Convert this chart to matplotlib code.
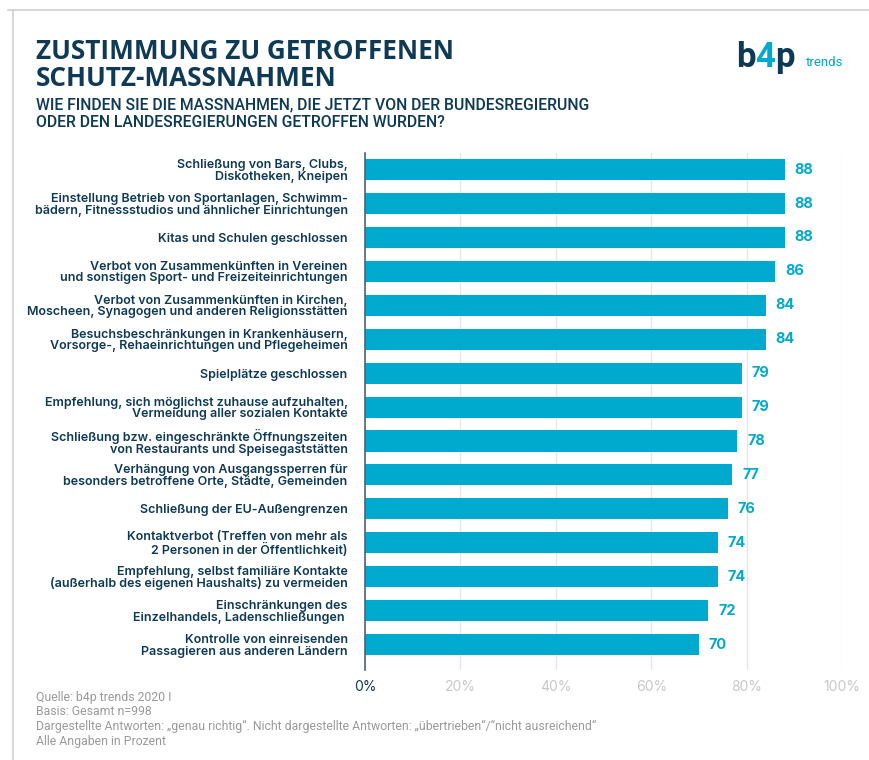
import matplotlib
matplotlib.use("Agg")
import matplotlib.pyplot as plt
from matplotlib.lines import Line2D

categories = [
    "Schließung von Bars, Clubs,\nDiskotheken, Kneipen",
    "Einstellung Betrieb von Sportanlagen, Schwimm-\nbädern, Fitnessstudios und ähnlicher Einrichtungen",
    "Kitas und Schulen geschlossen",
    "Verbot von Zusammenkünften in Vereinen\nund sonstigen Sport- und Freizeiteinrichtungen",
    "Verbot von Zusammenkünften in Kirchen,\nMoscheen, Synagogen und anderen Religionsstätten",
    "Besuchsbeschränkungen in Krankenhäusern,\nVorsorge-, Rehaeinrichtungen und Pflegeheimen",
    "Spielplätze geschlossen",
    "Empfehlung, sich möglichst zuhause aufzuhalten,\nVermeidung aller sozialen Kontakte",
    "Schließung bzw. eingeschränkte Öffnungszeiten\nvon Restaurants und Speisegaststätten",
    "Verhängung von Ausgangssperren für\nbesonders betroffene Orte, Städte, Gemeinden",
    "Schließung der EU-Außengrenzen",
    "Kontaktverbot (Treffen von mehr als\n2 Personen in der Öffentlichkeit)",
    "Empfehlung, selbst familiäre Kontakte\n(außerhalb des eigenen Haushalts) zu vermeiden",
    "Einschränkungen des\nEinzelhandels, Ladenschließungen ",
    "Kontrolle von einreisenden\nPassagieren aus anderen Ländern",
]
values = [88, 88, 88, 86, 84, 84, 79, 79, 78, 77, 76, 74, 74, 72, 70]
xticks = [0, 20, 40, 60, 80, 100]
xticklabels = ["0%", "20%", "40%", "60%", "80%", "100%"]

title = "ZUSTIMMUNG ZU GETROFFENEN\nSCHUTZ-MASSNAHMEN"
subtitle = "WIE FINDEN SIE DIE MASSNAHMEN, DIE JETZT VON DER BUNDESREGIERUNG\nODER DEN LANDESREGIERUNGEN GETROFFEN WURDEN?"
footnotes = [
    "Quelle: b4p trends 2020 I",
    "Basis: Gesamt n=998",
    "Dargestellte Antworten: „genau richtig“. Nicht dargestellte Antworten: „übertrieben“/“nicht ausreichend“",
    "Alle Angaben in Prozent",
]

NAVY = "#0e3a56"
CYAN = "#00a9ce"
GRID = "#e6e6e6"
TICKGRAY = "#c8c8c8"
FOOTGRAY = "#9a9a9a"

plt.rcParams['font.family'] = ['Inter', 'DejaVu Sans']

W, H = 870, 760
fig = plt.figure(figsize=(W / 100, H / 100), dpi=100)
fig.patch.set_facecolor("white")

def fx(px):
    return px / W

def fy(py):
    return 1 - py / H

# frame lines
fig.add_artist(Line2D([fx(8), fx(870)], [fy(10), fy(10)], color="#cfcfcf", lw=1.2))
fig.add_artist(Line2D([fx(13), fx(13)], [fy(10), fy(760)], color="#cfcfcf", lw=1.2))

left, right, top, bottom = 365, 842, 153, 670
ax = fig.add_axes([fx(left), fy(bottom), fx(right - left), (bottom - top) / H])

y = list(range(len(values)))
ax.barh(y, values, height=0.62, color=CYAN, zorder=3)
ax.set_xlim(0, 100)
ax.set_ylim(14.75, -0.49)

for yi, v in zip(y, values):
    ax.text(v + 2.1, yi, str(v), va="center", ha="left", color=CYAN,
            fontsize=10.5, fontweight="bold")

ax.set_yticks(y)
ax.set_yticklabels(categories, fontsize=9.0, color=NAVY, fontweight=600,
                   linespacing=0.95)
ax.tick_params(axis="y", length=0, pad=12.5)

ax.set_xticks(xticks)
ax.set_xticklabels(xticklabels, fontsize=10)
for i, lab in enumerate(ax.get_xticklabels()):
    lab.set_color(NAVY if i == 0 else TICKGRAY)
ax.tick_params(axis="x", length=0, pad=7)

ax.grid(axis="x", color=GRID, lw=1, zorder=0)
for s in ["top", "right", "bottom"]:
    ax.spines[s].set_visible(False)
ax.spines["left"].set_color("#4d6475")
ax.spines["left"].set_linewidth(1.2)
ax.spines["left"].set_zorder(4)

# titles
fig.text(fx(36), fy(38), title, ha="left", va="top", fontsize=18.8,
         fontweight="bold", color=NAVY, family=["Open Sans", "DejaVu Sans"],
         linespacing=1.0)
fig.text(fx(36), fy(97), subtitle, ha="left", va="top", fontsize=11.3,
         color=NAVY, family=["Roboto", "DejaVu Sans"], linespacing=1.25,
         fontweight=500)

# logo
fig.text(fx(736), fy(67), "b", ha="left", va="baseline", fontsize=25,
         fontweight="bold", color=NAVY, family=["Roboto", "DejaVu Sans"])
fig.text(fx(755), fy(67), "4", ha="left", va="baseline", fontsize=25,
         fontweight="bold", color=CYAN, family=["Roboto", "DejaVu Sans"])
fig.text(fx(775), fy(67), "p", ha="left", va="baseline", fontsize=25,
         fontweight="bold", color=NAVY, family=["Roboto", "DejaVu Sans"])
fig.text(fx(806), fy(66), "trends", ha="left", va="baseline", fontsize=9.5,
         color=CYAN, family=["Roboto", "DejaVu Sans"])

# footnotes
for i, line in enumerate(footnotes):
    fig.text(fx(36), fy(697 + i * 14.8), line, ha="left", va="center",
             fontsize=8.8, color=FOOTGRAY, family=["Roboto", "DejaVu Sans"])

fig.savefig("out.png", dpi=100, facecolor="white")
